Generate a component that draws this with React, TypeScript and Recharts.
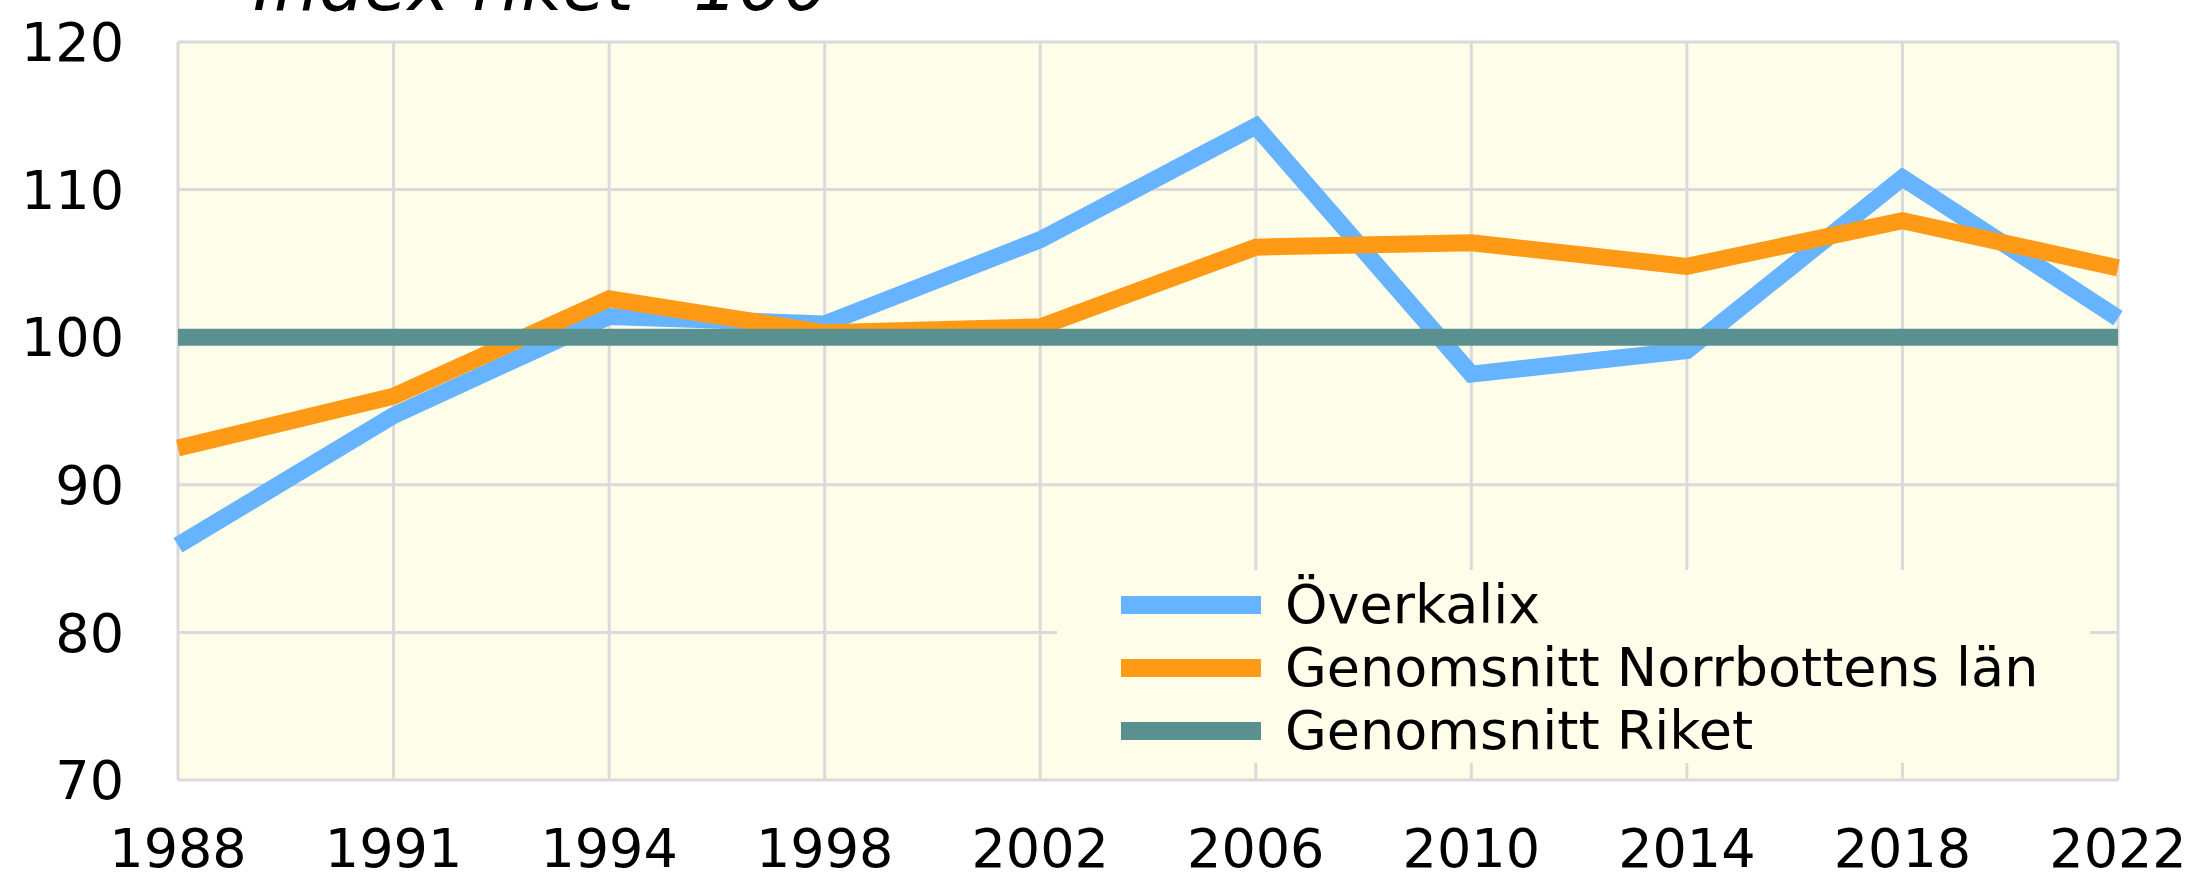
import { LineChart, Line, XAxis, YAxis, CartesianGrid, Legend } from 'recharts';

const years = ['1988', '1991', '1994', '1998', '2002', '2006', '2010', '2014', '2018', '2022'];
const overkalix = [85.9, 94.7, 101.4, 100.9, 106.6, 114.3, 97.5, 99.1, 110.8, 101.3];
const norrbotten = [92.5, 96.0, 102.6, 100.3, 100.7, 106.1, 106.4, 104.8, 107.9, 104.7];
const riket = [100, 100, 100, 100, 100, 100, 100, 100, 100, 100];
const yTicks = [70, 80, 90, 100, 110, 120];
const seriesNames = ['Överkalix', 'Genomsnitt Norrbottens län', 'Genomsnitt Riket'];

const FONT = '"DejaVu Sans", Verdana, sans-serif';

const chartData = years.map((year, i) => ({
  year,
  [seriesNames[0]]: overkalix[i],
  [seriesNames[1]]: norrbotten[i],
  [seriesNames[2]]: riket[i],
}));

function LegendBox({ payload }: any) {
  if (!payload) return null;
  // keep the series order, recharts sorts by name otherwise
  const items = [...payload].sort(
    (a: any, b: any) => seriesNames.indexOf(a.value) - seriesNames.indexOf(b.value)
  );
  return (
    <div style={{ paddingTop: 3 }}>
      {items.map((entry: any, index: number) => (
        <div key={index} style={{ display: 'flex', alignItems: 'center', height: 63 }}>
          <div style={{ width: 140, height: 18, marginLeft: 64, background: entry.color }} />
          <span style={{ marginLeft: 24, fontSize: 54, fontFamily: FONT, color: '#000', lineHeight: 1 }}>
            {entry.value}
          </span>
        </div>
      ))}
    </div>
  );
}

export default function App() {
  return (
    <div style={{ position: 'absolute', left: 0, top: 0, width: 2193, height: 878 }}>
      <svg style={{ position: 'absolute', left: 0, top: 0, zIndex: 2 }} width={2193} height={40}>
        <text x={253} y={10} fontSize={71} fontStyle="italic" fontFamily={FONT} fill="#000">
          Index riket=100
        </text>
      </svg>
      <LineChart
        width={2193}
        height={878}
        data={chartData}
        margin={{ top: 42, right: 75, left: 0, bottom: 0 }}
      >
        <CartesianGrid fill="#FEFDE9" stroke="#DADADA" strokeWidth={3} />
        <XAxis
          dataKey="year"
          interval={0}
          height={98}
          axisLine={false}
          tickLine={false}
          tickSize={0}
          tickMargin={49}
          tick={{ fontSize: 54, fill: '#000', fontFamily: FONT }}
        />
        <YAxis
          domain={[70, 120]}
          ticks={yTicks}
          width={178}
          axisLine={false}
          tickLine={false}
          tickSize={0}
          tickMargin={54}
          tick={{ fontSize: 54, fill: '#000', fontFamily: FONT }}
        />
        <Legend
          layout="vertical"
          align="center"
          verticalAlign="middle"
          content={<LegendBox />}
          wrapperStyle={{
            left: 1057,
            top: 570,
            width: 1033,
            height: 193,
            background: '#FEFDE9',
          }}
        />
        <Line dataKey={seriesNames[0]} stroke="#66B3FF" strokeWidth={17} dot={false} isAnimationActive={false} />
        <Line dataKey={seriesNames[1]} stroke="#FF9A17" strokeWidth={17} dot={false} isAnimationActive={false} />
        <Line dataKey={seriesNames[2]} stroke="#5B9090" strokeWidth={17} dot={false} isAnimationActive={false} />
      </LineChart>
    </div>
  );
}
